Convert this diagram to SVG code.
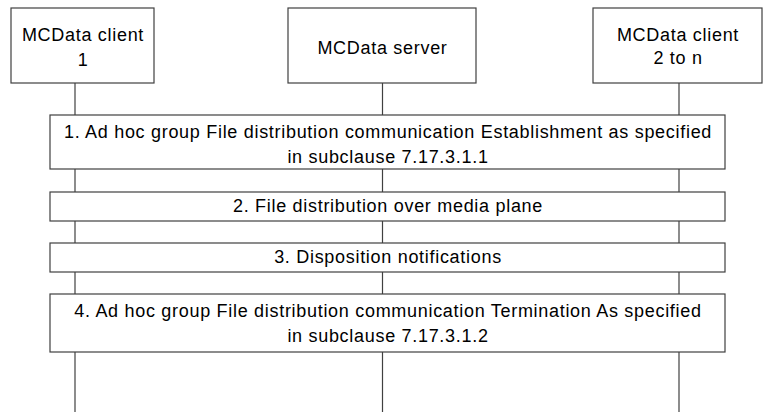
<svg xmlns="http://www.w3.org/2000/svg" width="770" height="412" viewBox="0 0 770 412">
<style>
.box{fill:#fff;stroke:#404040;stroke-width:1.2}
.life{stroke:#404040;stroke-width:1.2;fill:none}
text{font-family:"Liberation Sans",Arial,sans-serif;font-size:18px;letter-spacing:0.7px;fill:#000;text-anchor:middle}
</style>
<rect width="770" height="412" fill="#fff"/>
<g id="lifelines">
<line class="life" x1="75" y1="83" x2="75" y2="412"/>
<line class="life" x1="382.5" y1="83" x2="382.5" y2="412"/>
<line class="life" x1="679" y1="83" x2="679" y2="412"/>
</g>
<g id="client1">
<rect class="box" x="11" y="8" width="143" height="75"/>
<text x="83" y="41">MCData client</text>
<text x="83" y="66">1</text>
</g>
<g id="server">
<rect class="box" x="288" y="8" width="188" height="75"/>
<text x="382.5" y="54">MCData server</text>
</g>
<g id="client2">
<rect class="box" x="593" y="8" width="169" height="75"/>
<text x="678" y="41">MCData client</text>
<text x="678" y="64">2 to n</text>
</g>
<g id="step1">
<rect class="box" x="50" y="115" width="675" height="54"/>
<text x="388" y="138">1. Ad hoc group File distribution communication Establishment as specified</text>
<text x="388" y="163">in subclause 7.17.3.1.1</text>
</g>
<g id="step2">
<rect class="box" x="50" y="192" width="675" height="29"/>
<text x="388" y="212">2. File distribution over media plane</text>
</g>
<g id="step3">
<rect class="box" x="50" y="243" width="675" height="29"/>
<text x="388" y="263">3. Disposition notifications</text>
</g>
<g id="step4">
<rect class="box" x="50" y="294" width="675" height="58"/>
<text x="388" y="317">4. Ad hoc group File distribution communication Termination As specified</text>
<text x="388" y="342">in subclause 7.17.3.1.2</text>
</g>
</svg>
